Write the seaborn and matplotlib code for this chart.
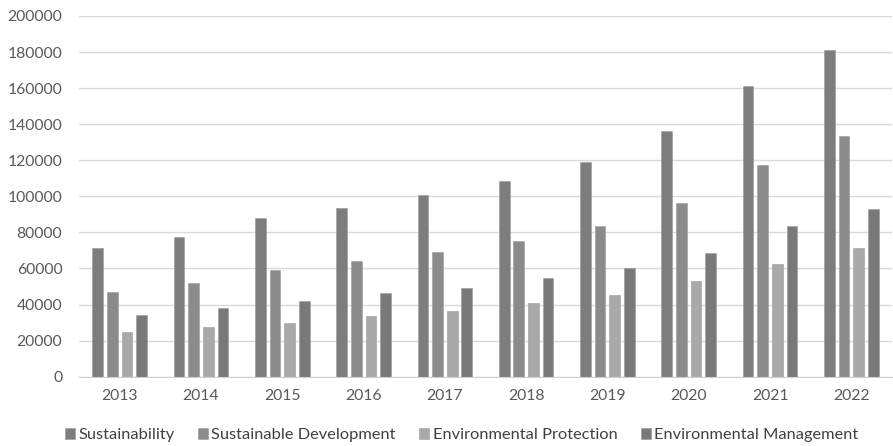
import pandas as pd
import matplotlib
matplotlib.use("Agg")
import matplotlib.pyplot as plt
import seaborn as sns

years = ["2013", "2014", "2015", "2016", "2017", "2018", "2019", "2020", "2021", "2022"]
sustainability = [71500, 77500, 87800, 93500, 101000, 108500, 119000, 136000, 161000, 181000]
sustainable_dev = [47000, 52200, 59000, 64000, 69000, 75000, 83500, 96500, 117500, 133500]
env_protection = [24700, 27800, 30000, 33700, 36700, 41000, 45500, 53000, 62500, 71500]
env_management = [34000, 38000, 41800, 46300, 49200, 54500, 60300, 68500, 83500, 93000]
series_names = ["Sustainability", "Sustainable Development",
                "Environmental Protection", "Environmental Management"]
colors = ["#7d7d7d", "#8b8b8b", "#a9a9a9", "#797979"]

rows = []
for name, vals in zip(series_names, [sustainability, sustainable_dev, env_protection, env_management]):
    for y, v in zip(years, vals):
        rows.append({"year": y, "series": name, "value": v})
df = pd.DataFrame(rows)

sns.set_style("white")
plt.rcParams["font.family"] = ["Lato", "DejaVu Sans"]

fig = plt.figure(figsize=(8.93, 4.46), dpi=100)
ax = fig.add_axes([79 / 893, 69.3 / 446, 813 / 893, 360.7 / 446])

sns.barplot(data=df, x="year", y="value", hue="series", palette=colors,
            width=0.72, gap=0.27, ax=ax, edgecolor="#9a9a9a", linewidth=0.4,
            legend=True)

ax.set_ylim(0, 200000)
ax.set_yticks(range(0, 200001, 20000))
ax.yaxis.grid(True, color="#dadada", linewidth=1)
ax.set_axisbelow(True)
for s in ["top", "right", "left"]:
    ax.spines[s].set_visible(False)
ax.spines["bottom"].set_color("#d0d0d0")
ax.tick_params(axis="both", length=0, labelsize=11.3, colors="#595959")
ax.tick_params(axis="y", pad=12)
ax.tick_params(axis="x", pad=9)
ax.set_xlabel("")
ax.set_ylabel("")

handles, labels = ax.get_legend_handles_labels()
ax.get_legend().remove()
fig.legend(handles, labels, loc="center", bbox_to_anchor=(0.517, 0.024),
           ncol=4, frameon=False, fontsize=11.8, handlelength=0.6, handleheight=0.6,
           handletextpad=0.2, columnspacing=1.45, labelcolor="#404040",
           borderaxespad=0, borderpad=0)

fig.savefig("out.png", dpi=100)
